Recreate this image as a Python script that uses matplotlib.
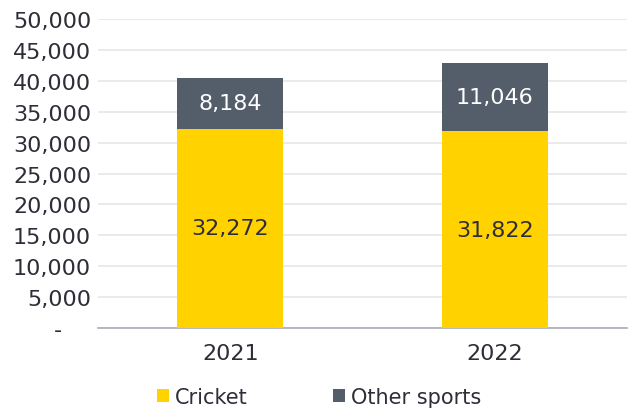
import matplotlib
matplotlib.use("Agg")
import matplotlib.pyplot as plt
from matplotlib.patches import Patch

years = ["2021", "2022"]
cricket = [32272, 31822]
other_sports = [8184, 11046]
y_ticks = [0, 5000, 10000, 15000, 20000, 25000, 30000, 35000, 40000, 45000, 50000]

YELLOW = "#FFD200"
SLATE = "#545E6A"
TEXT = "#2E2E38"

plt.rcParams["font.family"] = ["DejaVu Sans"]

fig = plt.figure(figsize=(6.3, 4.14), dpi=100)
ax = fig.add_axes([0.1556, 0.2053, 0.8394, 0.7464])

x = range(len(years))
ax.bar(x, cricket, width=0.4, color=YELLOW, zorder=3)
ax.bar(x, other_sports, width=0.4, bottom=cricket, color=SLATE, zorder=3)

for i in x:
    ax.text(i, cricket[i] / 2, f"{cricket[i]:,}", ha="center", va="center",
            fontsize=16, color=TEXT, zorder=4)
    ax.text(i, cricket[i] + other_sports[i] / 2, f"{other_sports[i]:,}",
            ha="center", va="center", fontsize=16, color="white", zorder=4)

ax.set_xlim(-0.5, 1.5)
ax.set_ylim(0, 50000)
ax.set_yticks(y_ticks)
# accounting-style zero: a dash set in from the right edge
ax.set_yticklabels(["-    " if v == 0 else f"{v:,}" for v in y_ticks])
ax.set_xticks(list(x))
ax.set_xticklabels(years)
ax.tick_params(axis="both", length=0, labelsize=16, colors=TEXT)
ax.tick_params(axis="y", pad=5)
ax.tick_params(axis="x", pad=11)

ax.yaxis.grid(True, color="#E6E6E6", linewidth=1.2, zorder=0)
for side in ("top", "right", "left"):
    ax.spines[side].set_visible(False)
ax.spines["bottom"].set_color("#A8AEB6")
ax.spines["bottom"].set_linewidth(1.2)

handles = [Patch(facecolor=YELLOW, label="Cricket"),
           Patch(facecolor=SLATE, label="Other sports")]
fig.legend(handles=handles, loc="center", bbox_to_anchor=(0.507, 0.039),
           ncol=2, frameon=False, fontsize=15, handlelength=0.58,
           handleheight=0.58, handletextpad=0.29, columnspacing=4.1,
           borderpad=0, labelcolor=TEXT)

fig.savefig("out.png", dpi=100)
